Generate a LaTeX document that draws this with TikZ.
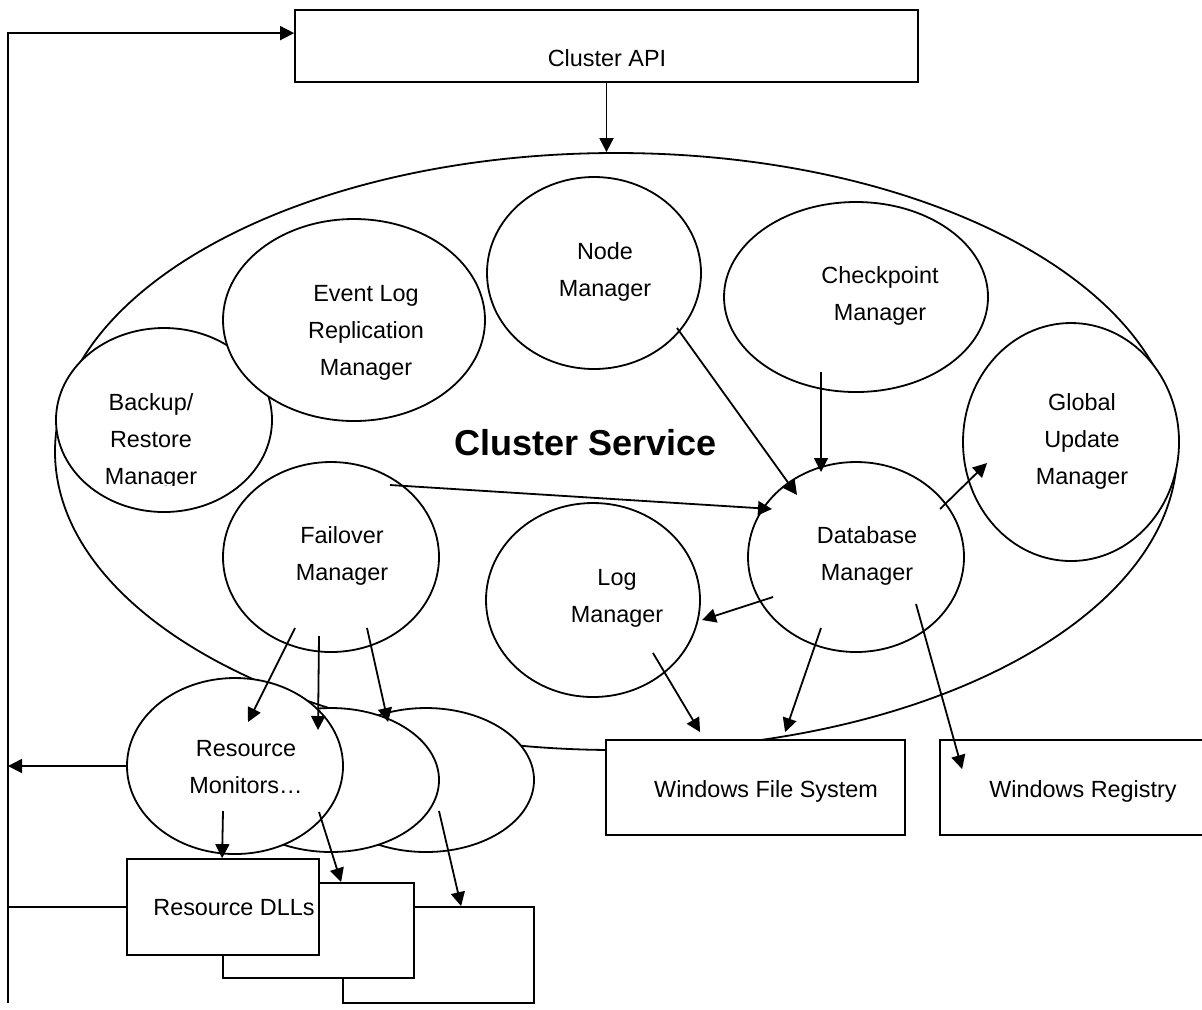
\documentclass[tikz,border=0pt]{standalone}
\usepackage{fontspec}
\setmainfont{Liberation Sans}
\usetikzlibrary{shapes.geometric,arrows.meta,calc}
\begin{document}
\begin{tikzpicture}[x=0.5pt,y=-0.5pt,
  ell/.style={ellipse,draw,fill=white,line width=0.9pt,inner sep=0pt},
  boxn/.style={rectangle,draw,fill=white,line width=0.9pt,inner sep=0pt},
  lbl/.style={font=\fontsize{11.7}{18.5}\selectfont,align=center,inner sep=0pt},
  arr/.style={-{Triangle[length=7pt,width=7pt]},line width=0.9pt},
  conn/.style={line width=0.9pt}]
\useasboundingbox (0,0) rectangle (1202,1009);

% big ellipse
\node[ell,minimum width=561pt,minimum height=298.5pt] (cs) at (616,451.5) {};

% inner ellipses
\node[ell,minimum width=108pt,minimum height=92pt] (br) at (164,420) {};
\node[ell,minimum width=131pt,minimum height=101pt] (el) at (354,320) {};
\node[ell,minimum width=107pt,minimum height=96pt] (nm) at (594,273) {};
\node[ell,minimum width=132pt,minimum height=95pt] (cp) at (856,297) {};
\node[ell,minimum width=108pt,minimum height=119pt] (gu) at (1071,442) {};
\node[ell,minimum width=108pt,minimum height=95pt] (fm) at (331,557) {};
\node[ell,minimum width=107pt,minimum height=97pt] (lm) at (593,600) {};
\node[ell,minimum width=108pt,minimum height=95pt] (dm) at (856,557) {};

% resource monitors
\node[ell,minimum width=108pt,minimum height=72pt] (rm3) at (426,780) {};
\node[ell,minimum width=108pt,minimum height=72pt] (rm2) at (331,780) {};
\node[ell,minimum width=108pt,minimum height=88pt] (rm1) at (235,766) {};

% boxes
\node[boxn,minimum width=149.5pt,minimum height=47.5pt] (wfs) at (755.5,787.5) {};
\node[boxn,minimum width=132.5pt,minimum height=47.5pt] (reg) at (1072.5,787.5) {};
\node[boxn,minimum width=95.5pt,minimum height=48pt] (dll3) at (438.5,955) {};
\node[boxn,minimum width=95.5pt,minimum height=47.5pt] (dll2) at (318.5,930.5) {};
\node[boxn,minimum width=96pt,minimum height=48pt] (dll1) at (223,907) {};
\node[boxn,minimum width=311.5pt,minimum height=36pt] (api) at (606.5,46) {};

% labels
\node[lbl,anchor=base] (apit) at (607,66) {Cluster API};
\node[lbl] (elt) at (366,333) {Event Log\\Replication\\Manager};
\node[lbl] (nmt) at (605,271.5) {Node\\Manager};
\node[lbl] (cpt) at (880,296) {Checkpoint\\Manager};
\node[lbl] (gut) at (1082,441) {Global\\Update\\Manager};
\node[lbl] (fmt) at (342,556) {Failover\\Manager};
\node[lbl] (lmt) at (617,598) {Log\\Manager};
\node[lbl] (dmt) at (867,556) {Database\\Manager};
\node[lbl] (rmt) at (246,767.5) {Resource\\Monitors…};
\node[lbl,anchor=base] (wfst) at (766,797) {Windows File System};
\node[lbl,anchor=base] (regt) at (1083,797) {Windows Registry};
\node[lbl,anchor=base] (dllt) at (234,915) {Resource DLLs};
\node[font=\fontsize{18}{22}\selectfont\bfseries,anchor=base,inner sep=0pt] (cst) at (585.5,455) {Cluster Service};
\begin{scope}
\clip (0,0) rectangle (1202,485);
\node[lbl] (brt) at (151,441) {Backup/\\Restore\\Manager};
\end{scope}

% left bus line
\coordinate (lb) at (8,1003);
\draw[arr] (lb) |- ($(api.north west)+(0,24)$);
\draw[conn] (dll1.west) -- (dll1.west -| lb);
\draw[arr] (rm1.west) -- (rm1.west -| lb);

% arrows
\draw[arr] (api.south) -- (api.south |- cs.north);
\draw[arr] ($(fm.center)+(59,-72)$) -- ($(dm.center)+(-84,-48)$);
\draw[arr] ($(nm.center)+(83,55)$) -- ($(dm.center)+(-59,-62)$);
\draw[arr] ($(cp.center)+(-35,75)$) -- ($(dm.center)+(-35,-85)$);
\draw[arr] ($(dm.center)+(84,-48)$) -- ($(gu.center)+(-84,21)$);
\draw[arr] ($(dm.center)+(-83,40)$) -- ($(lm.center)+(109,20)$);
\draw[arr] ($(lm.center)+(60,53)$) -- ($(wfs.north west)+(95,-7)$);
\draw[arr] ($(dm.center)+(-35,71)$) -- ($(wfs.north west)+(180,-7)$);
\draw[arr] ($(dm.center)+(60,47)$) -- ($(reg.north west)+(23,30)$);
\draw[arr] ($(fm.center)+(-36,71)$) -- ($(rm1.center)+(13,-44)$);
\draw[arr] ($(fm.center)+(-12,79)$) -- ($(rm2.center)+(-13,-50)$);
\draw[arr] ($(fm.center)+(36,71)$) -- ($(rm3.center)+(-38,-58)$);
\draw[arr] ($(rm1.center)+(-12,45)$) -- ($(dll1.north west)+(96,0)$);
\draw[arr] ($(rm1.center)+(84,46)$) -- ($(dll2.north west)+(119,0)$);
\draw[arr] ($(rm2.center)+(108,31)$) -- ($(dll3.north west)+(119,0)$);
\end{tikzpicture}
\end{document}
